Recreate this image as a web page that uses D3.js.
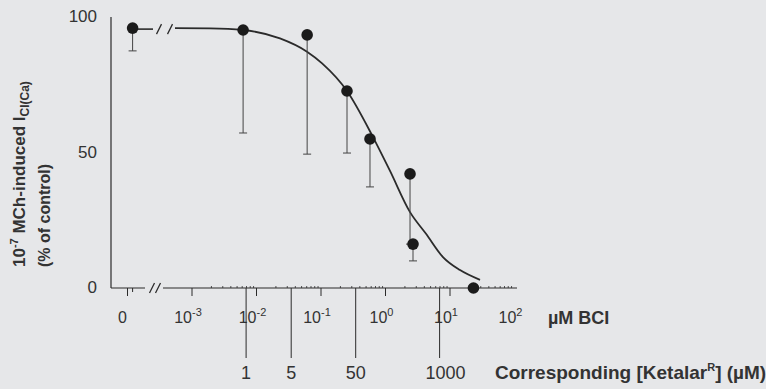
<!DOCTYPE html>
<html>
<head>
<meta charset="utf-8">
<script src="https://cdn.jsdelivr.net/npm/d3@7"></script>
<style>
  body { margin: 0; background: #e6e7e9; }
  svg { display: block; font-family: "Liberation Sans", Arial, sans-serif; }
</style>
</head>
<body>
<svg id="chart" width="766" height="389"></svg>
<script>
// data (BCI in uM, response in % of control)
const bciConc = [0, 0.0062, 0.061, 0.253, 0.575, 2.40, 2.67, 23.1];
const responsePct = [95.9, 95.2, 93.4, 72.7, 55.0, 42.1, 16.2, 0];
const errorLow = [87.5, 57.2, 49.4, 49.8, 37.3, 16.2, 10.0, null];

// fitted curve
const curveConc = [5.45e-4, 1.9e-3, 6.18e-3, 0.0231, 0.0607, 0.104, 0.253, 0.64, 1.17, 2.40, 4.25, 7.78, 14.3, 29.2];
const curvePct = [95.9, 95.8, 95.2, 92.1, 87.2, 82.9, 72.7, 55.7, 43.3, 28.0, 20.0, 11.4, 6.6, 3.0];

const yTicks = [0, 50, 100];
const decadeExp = [-3, -2, -1, 0, 1, 2];
const tickedExp = [-3, -2, -1, 0, 1];
const ketalarConc = [1, 5, 50, 1000];
const ketalarToBci = 0.0069;
const zeroAt = 1e-4;      // where "0" sits on the broken log axis
const controlAt = 1.2e-4; // where the control point sits

const svg = d3.select('#chart');
const ink = '#2b2b2b';
const textCol = '#333';

const x = d3.scaleLog().domain([1e-3, 1e2]).range([192, 514.5]);
const y = d3.scaleLinear().domain([0, 100]).range([288, 17]);
const xPos = d => d === 0 ? x(controlAt) : x(d);

const axisLeft = 111, axisRight = 517;

// y axis
svg.append('line')
    .attr('x1', axisLeft).attr('x2', axisLeft)
    .attr('y1', y(100)).attr('y2', y(0))
    .attr('stroke', ink).attr('stroke-width', 1.2);
svg.selectAll('.ylab')
    .data(yTicks)
    .enter()
    .append('text')
    .attr('x', 97)
    .attr('y', d => y(d) + 5)
    .attr('text-anchor', 'end')
    .style('font-size', '17px')
    .style('fill', textCol)
    .text(d => d);

// x axis with break
svg.append('line')
    .attr('x1', axisLeft).attr('x2', 145)
    .attr('y1', y(0)).attr('y2', y(0))
    .attr('stroke', ink).attr('stroke-width', 1.2);
svg.append('line')
    .attr('x1', 163).attr('x2', axisRight)
    .attr('y1', y(0)).attr('y2', y(0))
    .attr('stroke', ink).attr('stroke-width', 1.2);

function slash(cx, cy) {
    svg.append('line')
        .attr('x1', cx - 2.5).attr('y1', cy + 5)
        .attr('x2', cx + 2.5).attr('y2', cy - 5)
        .attr('stroke', ink).attr('stroke-width', 1.3);
}
slash(152, y(0));
slash(158, y(0));

// major ticks
const majorTicks = [zeroAt].concat(tickedExp.map(e => Math.pow(10, e)));
svg.selectAll('.tick')
    .data(majorTicks)
    .enter()
    .append('line')
    .attr('x1', d => x(d)).attr('x2', d => x(d))
    .attr('y1', y(0)).attr('y2', y(0) + 8)
    .attr('stroke', ink).attr('stroke-width', 1);
svg.append('line')
    .attr('x1', x(controlAt)).attr('x2', x(controlAt))
    .attr('y1', y(0)).attr('y2', y(0) + 4)
    .attr('stroke', ink).attr('stroke-width', 1);

// minor ticks
const minor = [];
tickedExp.forEach(e => d3.range(2, 10).forEach(m => minor.push(m * Math.pow(10, e))));
svg.selectAll('.minor')
    .data(minor)
    .enter()
    .append('line')
    .attr('x1', d => x(d)).attr('x2', d => x(d))
    .attr('y1', y(0)).attr('y2', y(0) - 2)
    .attr('stroke', ink).attr('stroke-width', 0.8);

// x tick labels
svg.append('text')
    .attr('x', x(zeroAt) - 5).attr('y', 323)
    .attr('text-anchor', 'middle')
    .style('font-size', '16px').style('fill', textCol)
    .text('0');
const xl = svg.selectAll('.xlab')
    .data(decadeExp)
    .enter()
    .append('text')
    .attr('x', d => x(Math.pow(10, d)) - 4)
    .attr('y', 323)
    .attr('text-anchor', 'middle')
    .style('font-size', '16px').style('fill', textCol);
xl.append('tspan').text('10');
xl.append('tspan')
    .attr('dy', -7)
    .style('font-size', '11px')
    .text(d => d);

svg.append('text')
    .attr('x', 548).attr('y', 324)
    .style('font-size', '18px').style('font-weight', 'bold').style('fill', textCol)
    .text('\u00B5M BCI');

// Ketalar equivalent scale
svg.selectAll('.ket')
    .data(ketalarConc)
    .enter()
    .append('line')
    .attr('x1', d => x(d * ketalarToBci)).attr('x2', d => x(d * ketalarToBci))
    .attr('y1', y(0)).attr('y2', 358)
    .attr('stroke', ink).attr('stroke-width', 1);
svg.selectAll('.ketlab')
    .data(ketalarConc)
    .enter()
    .append('text')
    .attr('x', d => x(d * ketalarToBci) + (d >= 1000 ? 6 : 0))
    .attr('y', 379)
    .attr('text-anchor', 'middle')
    .style('font-size', '18px').style('fill', textCol)
    .text(d => d);
const kt = svg.append('text')
    .attr('x', 495).attr('y', 379)
    .style('font-size', '19px').style('font-weight', 'bold').style('fill', textCol);
kt.append('tspan').text('Corresponding [Ketalar');
kt.append('tspan').attr('dy', -8).style('font-size', '11px').text('R');
kt.append('tspan').attr('dy', 8).text('] (\u00B5M)');

// y label
const yl1 = svg.append('text')
    .attr('transform', 'translate(25,267) rotate(-90)')
    .style('font-size', '17px').style('font-weight', 'bold').style('fill', textCol);
yl1.append('tspan').text('10');
yl1.append('tspan').attr('dy', -7).style('font-size', '11px').text('-7');
yl1.append('tspan').attr('dy', 7).text(' MCh-induced I');
yl1.append('tspan').attr('dy', 4).style('font-size', '12px').text('Cl(Ca)');
svg.append('text')
    .attr('transform', 'translate(50,267) rotate(-90)')
    .style('font-size', '16px').style('font-weight', 'bold').style('fill', textCol)
    .text('(% of control)');

// fitted curve
const curveData = curveConc.map((c, i) => [c, curvePct[i]]);
svg.append('path')
    .datum(curveData)
    .attr('fill', 'none')
    .attr('stroke', ink)
    .attr('stroke-width', 1.8)
    .attr('d', d3.line().x(d => x(d[0])).y(d => y(d[1])).curve(d3.curveMonotoneX));

// control line with break
svg.append('line')
    .attr('x1', xPos(0)).attr('x2', 153)
    .attr('y1', y(responsePct[0]) + 1).attr('y2', y(responsePct[0]) + 1)
    .attr('stroke', ink).attr('stroke-width', 1.6);
slash(159, y(responsePct[0]) + 1);
slash(170, y(responsePct[0]) + 1);

// error bars
const pts = bciConc.map((c, i) => ({ c: c, v: responsePct[i], lo: errorLow[i] }));
const eb = svg.selectAll('.err')
    .data(pts.filter(d => d.lo !== null))
    .enter()
    .append('g');
eb.append('line')
    .attr('x1', d => xPos(d.c)).attr('x2', d => xPos(d.c))
    .attr('y1', d => y(d.v)).attr('y2', d => y(d.lo))
    .attr('stroke', '#444').attr('stroke-width', 1);
eb.append('line')
    .attr('x1', d => xPos(d.c) - 4).attr('x2', d => xPos(d.c) + 4)
    .attr('y1', d => y(d.lo)).attr('y2', d => y(d.lo))
    .attr('stroke', '#444').attr('stroke-width', 1);

// points
svg.selectAll('.pt')
    .data(pts)
    .enter()
    .append('circle')
    .attr('cx', d => xPos(d.c))
    .attr('cy', d => y(d.v))
    .attr('r', 5.8)
    .style('fill', '#1b1b1b');
</script>
</body>
</html>
